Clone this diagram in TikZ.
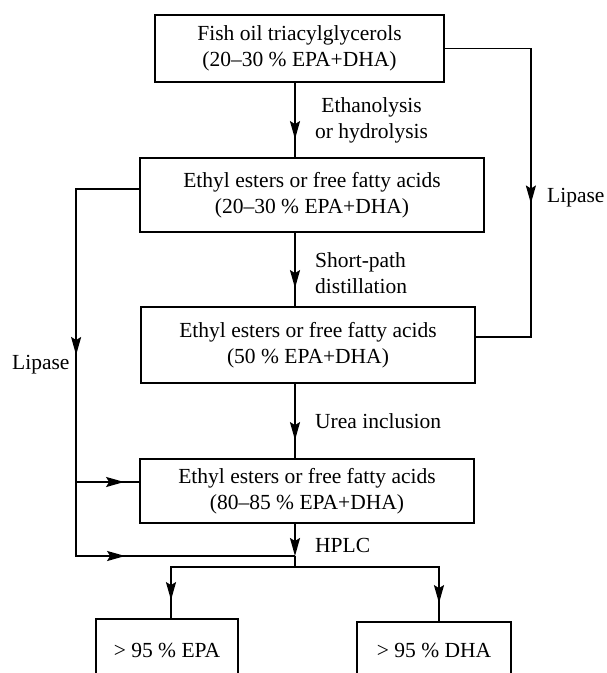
\documentclass[tikz,border=0pt]{standalone}
\usepackage{fontspec}
\setmainfont{Liberation Serif}
\usetikzlibrary{arrows.meta,decorations.markings}

\tikzset{%
  stage/.style={draw, line width=1.8pt, inner sep=0pt, align=center,
    font=\fontsize{21.5}{26}\selectfont},
  note/.style={inner sep=0pt, font=\fontsize{21.5}{26}\selectfont},
  flow/.style={line width=1.8pt},
  tip/.style={-{Stealth[length=18pt,width=10pt,inset=3pt]}},
  midarrow/.style={postaction={decorate, decoration={markings,
    mark=at position #1 with {\arrow{Stealth[length=18pt,width=10pt,inset=3pt]}}}}}
}

\begin{document}
\begin{tikzpicture}[x=1pt, y=-1pt]
  \useasboundingbox (0,0) rectangle (606,673);
  \clip (0,0) rectangle (606,673);

  % stages
  \node[stage, minimum width=289pt, minimum height=67pt] (oil) at (299.5,48.5)
    {Fish oil triacylglycerols\\(20--30 \% EPA+DHA)};
  \node[stage, minimum width=344pt, minimum height=74pt] (esters) at (312,195)
    {Ethyl esters or free fatty acids\\(20--30 \% EPA+DHA)};
  \node[stage, minimum width=334pt, minimum height=76pt] (conc) at (308,345)
    {Ethyl esters or free fatty acids\\(50 \% EPA+DHA)};
  \node[stage, minimum width=334pt, minimum height=64pt] (enriched) at (307,491)
    {Ethyl esters or free fatty acids\\(80--85 \% EPA+DHA)};
  \node[stage, minimum width=142pt, minimum height=62pt] (epa) at (167,650) {> 95 \% EPA};
  \node[stage, minimum width=154pt, minimum height=56pt] (dha) at (434,650) {> 95 \% DHA};

  \coordinate (join) at (295,556);
  \coordinate (split) at (295,567);

  % main line
  \draw[flow, midarrow=-18pt] (oil.south -| join) -- (esters.north -| join);
  \draw[flow, midarrow=-18pt] (esters.south -| join) -- (conc.north -| join);
  \draw[flow, midarrow=-18pt] (conc.south -| join) -- (enriched.north -| join);
  \draw[flow, tip] (enriched.south -| join) -- (join);
  \draw[flow] (join) -- (split);
  \draw[flow, midarrow=-18pt] (split) -| ([xshift=4pt]epa.north);
  \draw[flow, midarrow=-18pt] (split) -| ([xshift=5pt]dha.north);

  % lipase routes
  \draw[flow, midarrow=241pt] (oil.east) -- ++(86,0) |- ([yshift=8pt]conc.east);
  \draw[flow, midarrow=229pt, midarrow=479pt]
    ([yshift=6pt]esters.west) -- ++(-63,0) coordinate (bend) |- (join);
  \draw[flow, midarrow=-15pt] (bend |- 0,482) -- ([yshift=9pt]enriched.west);

  % step labels
  \node[note, anchor=west, align=center] (ethan) at (315,120) {Ethanolysis\\or hydrolysis};
  \node[note, anchor=west, align=left] (short) at (315,273.5) {Short-path\\distillation};
  \node[note, anchor=west] (urea) at (315,421) {Urea inclusion};
  \node[note, anchor=west] (hplc) at (315,545) {HPLC};
  \node[note, anchor=west] (lipR) at (547,198) {Lipase};
  \node[note, anchor=west] (lipL) at (12,365) {Lipase};
\end{tikzpicture}
\end{document}
